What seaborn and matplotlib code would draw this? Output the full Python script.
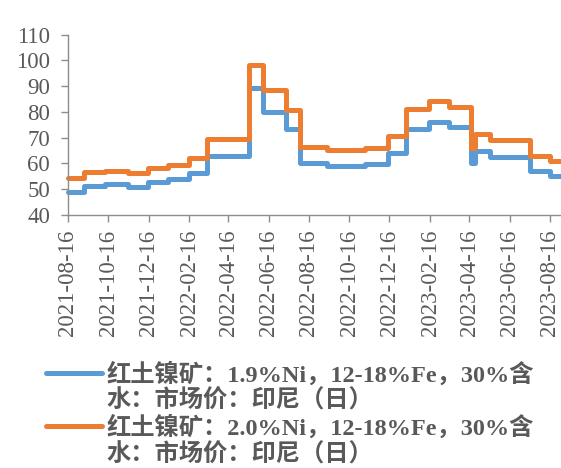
import pandas as pd
import matplotlib.pyplot as plt
import matplotlib.dates as mdates
from matplotlib.lines import Line2D
import seaborn as sns

# step change dates and prices (USD/wet t)
dates = ['2021-08-16', '2021-09-10', '2021-10-11', '2021-11-15', '2021-12-15',
         '2022-01-14', '2022-02-15', '2022-03-15', '2022-05-18', '2022-06-07',
         '2022-07-13', '2022-08-02', '2022-09-12', '2022-11-09', '2022-12-14',
         '2023-01-10', '2023-02-14', '2023-03-16', '2023-04-19', '2023-04-24',
         '2023-05-17', '2023-07-17', '2023-08-16', '2023-09-02']
ni19 = [49.0, 51.3, 52.0, 50.9, 52.7, 53.8, 56.3, 62.8, 89.2, 80.0,
        73.2, 60.2, 59.1, 59.6, 63.9, 73.3, 75.9, 74.2, 60.0, 64.9,
        62.6, 57.0, 55.2, 55.2]
ni20 = [54.4, 56.5, 57.1, 56.1, 58.0, 59.3, 62.2, 69.5, 98.0, 88.5,
        80.8, 66.5, 65.2, 66.0, 70.4, 81.0, 84.0, 82.0, 66.0, 71.4,
        69.1, 62.8, 60.9, 60.9]

label1 = ['红土镍矿：1.9%Ni，12-18%Fe，30%含', '水：市场价：印尼（日）']
label2 = ['红土镍矿：2.0%Ni，12-18%Fe，30%含', '水：市场价：印尼（日）']
colors = ['#5B9BD5', '#ED7D31']

df = pd.DataFrame({
    'date': pd.to_datetime(dates * 2),
    'price': ni19 + ni20,
    'series': ['1.9'] * len(dates) + ['2.0'] * len(dates),
})

sns.set_style('white')
plt.rcParams['font.family'] = ['Liberation Serif', 'Noto Sans CJK SC']

fig = plt.figure(figsize=(5.61, 4.68), dpi=100)
ax = fig.add_axes([68 / 561, 1 - 214.7 / 468, 1 - 68 / 561, (214.7 - 34.6) / 468])

sns.lineplot(data=df, x='date', y='price', hue='series', hue_order=['1.9', '2.0'],
             palette=colors, drawstyle='steps-post', linewidth=3.6,
             solid_joinstyle='round', solid_capstyle='round',
             legend=False, ax=ax, clip_on=False)

ax.set_xlim(pd.Timestamp('2021-08-16'), pd.Timestamp('2023-09-02'))
ax.set_ylim(40, 110)
ax.set_yticks(range(40, 111, 10))
ax.xaxis.set_major_locator(mdates.MonthLocator(bymonth=[2, 4, 6, 8, 10, 12], bymonthday=16))
ax.xaxis.set_major_formatter(mdates.DateFormatter('%Y-%m-%d'))
ax.set_xlabel('')
ax.set_ylabel('')

for s in ['top', 'right']:
    ax.spines[s].set_visible(False)
for s in ['left', 'bottom']:
    ax.spines[s].set_color('#8c8c8c')
    ax.spines[s].set_linewidth(1.0)

ax.tick_params(axis='both', colors='#8c8c8c', labelcolor='#595959', labelsize=16.5,
               length=5, width=1.0, direction='out', left=True, bottom=True)
ax.tick_params(axis='x', rotation=90, pad=6)
ax.tick_params(axis='y', pad=8)

handles = [Line2D([], [], color=colors[0], lw=3.6, solid_capstyle='round'),
           Line2D([], [], color='none'),
           Line2D([], [], color=colors[1], lw=3.6, solid_capstyle='round'),
           Line2D([], [], color='none')]
leg = fig.legend(handles, label1 + label2, loc='upper left',
                 bbox_to_anchor=(46 / 561, 1 - 362 / 468), frameon=False,
                 borderpad=0, borderaxespad=0, handlelength=2.3, handletextpad=0.2,
                 labelspacing=0.12, prop={'size': 17.5, 'weight': 'bold'})
for t in leg.get_texts():
    t.set_color('#595959')

fig.savefig('out.png', dpi=100)
